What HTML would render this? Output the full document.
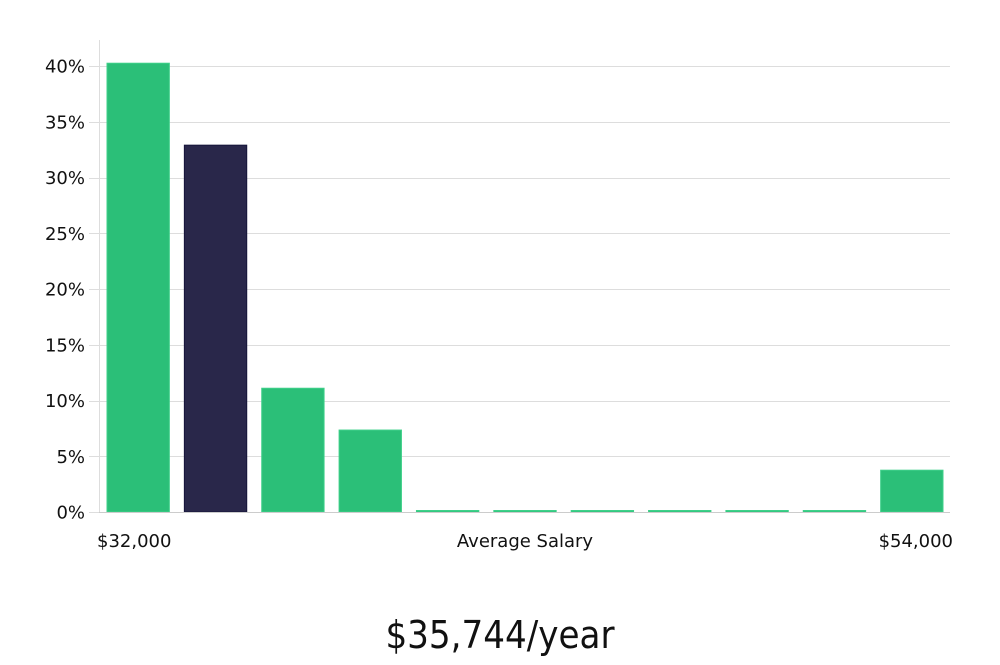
<!DOCTYPE html>
<html><head><meta charset="utf-8"><style>
body{margin:0;background:#fff;width:1000px;height:660px;overflow:hidden}
svg text{font-family:"DejaVu Sans","Liberation Sans",sans-serif;fill:#111}
</style></head><body>
<svg id="chart" width="1000" height="660" xmlns="http://www.w3.org/2000/svg">
<g id="grid"></g>
<g id="bars"></g>
<g id="yticks"></g>
<line x1="99.5" y1="40" x2="99.5" y2="512" stroke="#ddd"/>
<line x1="99" y1="512.5" x2="950" y2="512.5" stroke="#ccc"/>
<text x="97" y="547" font-size="18">$32,000</text>
<text x="525" y="547" font-size="18" text-anchor="middle">Average Salary</text>
<text x="953" y="547" font-size="18" text-anchor="end">$54,000</text>
<text x="500" y="648" font-size="38" text-anchor="middle" style="font-family:'Liberation Sans Narrow','DejaVu Sans Condensed','Liberation Sans',sans-serif;font-weight:300">$35,744/year</text>
</svg>
<script>
const values=[40.25,32.9,11.1,7.35,0,0,0,0,0,0,3.75];
const highlight=[false,true,false,false,false,false,false,false,false,false,false];
const yTicks=[0,5,10,15,20,25,30,35,40];
const ns="http://www.w3.org/2000/svg";
const x0=99,x1=950,yBase=512,yTop=66;
const y=v=>yBase-(v/40)*(yBase-yTop);
const band=(x1-x0)/values.length;
const grid=document.getElementById('grid'),yt=document.getElementById('yticks'),bars=document.getElementById('bars');
yTicks.forEach(t=>{
 const l=document.createElementNS(ns,'line');
 
 
 l.setAttribute('x1',89);l.setAttribute('x2',x1);
 l.setAttribute('y1',Math.round(y(t))+0.5);l.setAttribute('y2',Math.round(y(t))+0.5);
 l.setAttribute('stroke','#ddd');grid.appendChild(l);
 const tx=document.createElementNS(ns,'text');
 
 
 tx.setAttribute('x',85);tx.setAttribute('y',y(t)+6.5);
 tx.setAttribute('text-anchor','end');tx.setAttribute('font-size','18');
 tx.textContent=t+'%';yt.appendChild(tx);
});
values.forEach((v,i)=>{
 const r=document.createElementNS(ns,'rect');
 
 
 const bx=x0+i*band+8,bw=band-15;
 const top=Math.min(y(v),yBase-1.5);
 r.setAttribute('x',bx);r.setAttribute('width',bw);
 r.setAttribute('y',top);r.setAttribute('height',yBase-top);
 r.setAttribute('fill',highlight[i]?'#29274a':'#2bbf78');
 r.setAttribute('stroke',highlight[i]?'#15143a':'#3fd08a');
 r.setAttribute('stroke-width','1');
 bars.appendChild(r);
});
</script>
</body></html>
